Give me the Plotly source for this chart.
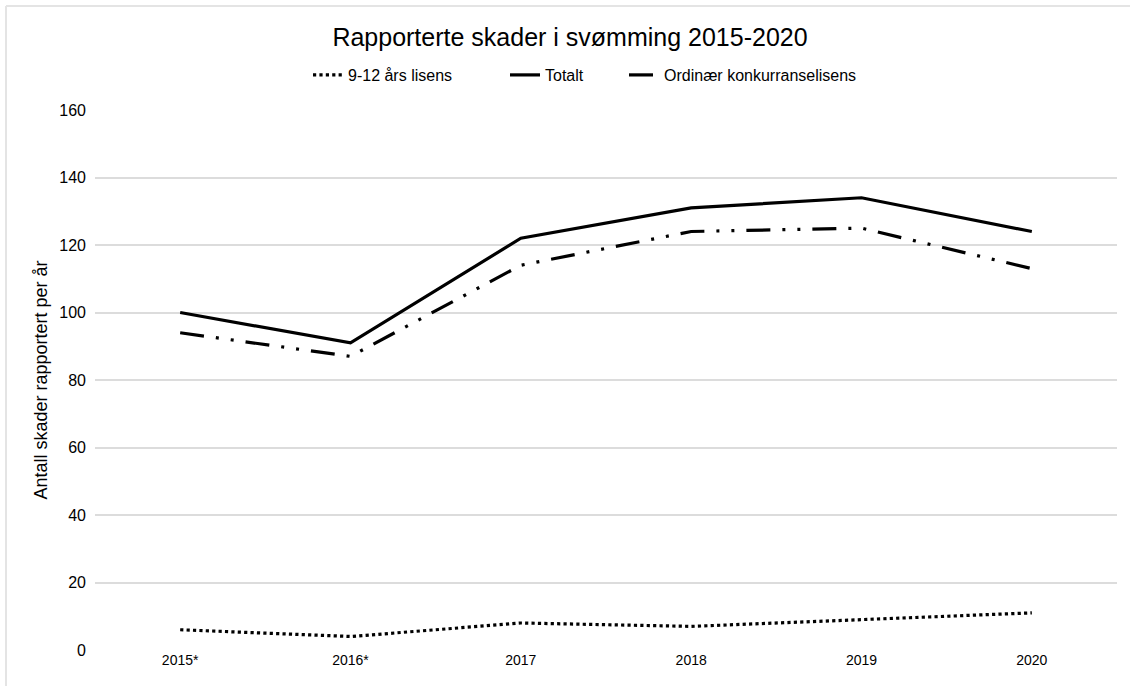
import plotly.graph_objects as go

years = ["2015*", "2016*", "2017", "2018", "2019", "2020"]
lisens_9_12 = [6, 4, 8, 7, 9, 11]
totalt = [100, 91, 122, 131, 134, 124]
ordinaer = [94, 87, 114, 124, 125, 113]
y_ticks = [0, 20, 40, 60, 80, 100, 120, 140, 160]

FONT = "Liberation Sans, Arial, Helvetica, sans-serif"

L, R, T, B = 95, 13, 110, 36
W, H = 1130, 686
pw, ph = W - L - R, H - T - B


def px(x):
    return (x - L) / pw


def py(y):
    return (H - B - y) / ph


fig = go.Figure()
fig.add_trace(go.Scatter(x=years, y=lisens_9_12, mode="lines", name="9-12 års lisens",
                         legend="legend",
                         line=dict(color="black", width=3.2, dash="dot")))
fig.add_trace(go.Scatter(x=years, y=totalt, mode="lines", name="Totalt",
                         legend="legend2",
                         line=dict(color="black", width=3.2)))
fig.add_trace(go.Scatter(x=years, y=ordinaer, mode="lines", name="Ordinær konkurranselisens",
                         legend="legend3",
                         line=dict(color="black", width=3.2, dash="24px,12px,3px,12px,3px,12px")))

leg_common = dict(orientation="h", y=py(75), yanchor="middle", xanchor="left",
                  font=dict(size=16), itemwidth=30, bgcolor="rgba(0,0,0,0)")

fig.update_layout(
    width=W, height=H,
    margin=dict(l=L, r=R, t=T, b=B),
    paper_bgcolor="white", plot_bgcolor="white",
    font=dict(family=FONT, size=15, color="black"),
    title=dict(text="Rapporterte skader i svømming 2015-2020", x=570 / W, xref="container",
               xanchor="center", y=1 - 37 / H, yanchor="middle", font=dict(size=25, color="black")),
    legend=dict(x=px(310 - 2), **leg_common),
    legend2=dict(x=px(507 - 2), **leg_common),
    legend3=dict(x=px(626 - 2), **leg_common),
    showlegend=True,
    xaxis=dict(type="category", range=[-0.5, 5.5], showgrid=False, showline=False,
               ticks="", tickfont=dict(size=14), zeroline=False),
    yaxis=dict(range=[0, 160], tickvals=y_ticks, showgrid=True, gridcolor="#dcdcdc",
               gridwidth=1.5, zeroline=False, showline=False, ticks="", ticklen=0,
               tickfont=dict(size=16), ticklabelstandoff=8,
               title=dict(text="Antall skader rapportert per år", font=dict(size=18), standoff=6)),
    shapes=[
        dict(type="line", xref="paper", yref="paper", x0=px(6), x1=px(1130), y0=py(6), y1=py(6),
             line=dict(color="#e4e4e4", width=2)),
        dict(type="line", xref="paper", yref="paper", x0=px(6), x1=px(6), y0=py(6), y1=py(686),
             line=dict(color="#e4e4e4", width=2)),
    ],
)

fig.write_html("out.html")
